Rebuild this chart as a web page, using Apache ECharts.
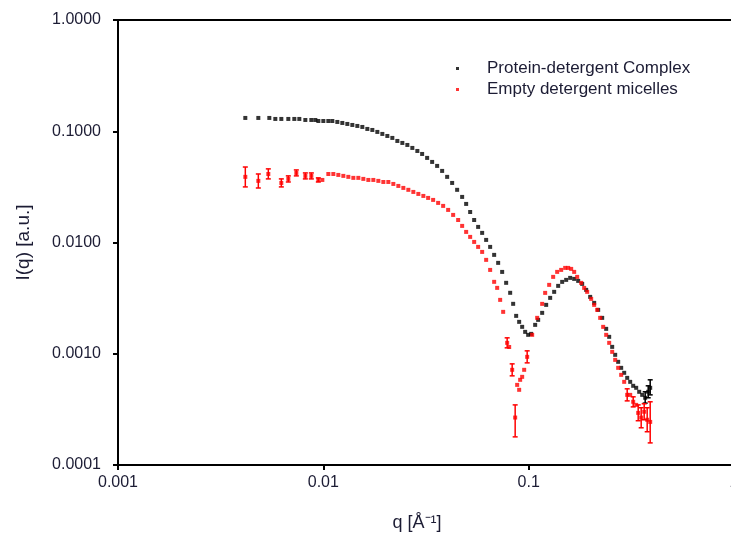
<!DOCTYPE html>
<html>
<head>
<meta charset="utf-8">
<script src="https://cdn.jsdelivr.net/npm/echarts@6/dist/echarts.min.js"></script>
<style>
html,body{margin:0;padding:0;background:#fff;}
#chart{width:731px;height:547px;}
</style>
</head>
<body>
<div id="chart"></div>
<script>
// ---- data ----
const xTickLabels = ['0.001', '0.01', '0.1', '1'];
const yTickLabels = ['0.0001', '0.0010', '0.0100', '0.1000', '1.0000'];
const seriesNames = ['Protein-detergent Complex', 'Empty detergent micelles'];

const complexQ = [0.004169,0.004824,0.005457,0.005837,0.006243,0.006753,0.007223,0.007640,0.008173,0.008741,0.009142,0.009455,0.01,0.010577,0.011062,0.0117,0.012374,0.013089,0.013844,0.014643,0.015487,0.016381,0.017325,0.018325,0.019381,0.0205,0.021682,0.022934,0.024256,0.025656,0.027134,0.0287,0.030283,0.03203,0.03388,0.03583,0.0379,0.04009,0.0424,0.04484,0.04743,0.04961,0.05189,0.05427,0.05675,0.05936,0.06208,0.06493,0.06791,0.07103,0.07429,0.07769,0.08127,0.08404,0.08692,0.08989,0.09297,0.09615,0.09944,0.10284,0.10756,0.11124,0.11635,0.12168,0.12727,0.13311,0.13922,0.14561,0.15228,0.15927,0.16658,0.17423,0.18223,0.19058,0.19933,0.20847,0.21804,0.22806,0.23852,0.24668,0.25512,0.26384,0.27287,0.28219,0.29189,0.30187,0.31221,0.32289,0.33395,0.34537,0.35718,0.36939,0.38206,0.39073];
const complexI = [0.1317,0.1317,0.1317,0.1290,0.1290,0.1290,0.1290,0.1290,0.1263,0.1263,0.1263,0.1237,0.1237,0.1237,0.1237,0.1212,0.1187,0.1163,0.1139,0.1116,0.1093,0.1049,0.1027,0.0986,0.0946,0.0907,0.0871,0.0818,0.0785,0.0753,0.0708,0.0665,0.0625,0.0576,0.0530,0.0488,0.0440,0.0389,0.0343,0.02975,0.02569,0.02222,0.0188,0.01593,0.01381,0.0122,0.01055,0.00913,0.00774,0.00656,0.00544,0.00434,0.00353,0.00281,0.00219,0.001935,0.001745,0.001573,0.001479,0.001509,0.001818,0.002017,0.002331,0.00275,0.003179,0.003601,0.004075,0.004426,0.004613,0.004808,0.004709,0.004519,0.004246,0.003751,0.003245,0.002866,0.00248,0.002102,0.001674,0.001419,0.001153,0.000978,0.000846,0.000747,0.000674,0.000607,0.000559,0.000515,0.000494,0.000455,0.000427,0.000402,0.000455,0.000494];
const complexErrQ = [0.36939, 0.38206, 0.39073];
const complexErrLo = [0.000360, 0.000402, 0.000427];
const complexErrHi = [0.000455, 0.000515, 0.000583];

const micelleQ = [0.004169,0.004824,0.005396,0.006243,0.006753,0.007387,0.008173,0.008741,0.009455,0.009889,0.010577,0.011187,0.011832,0.012515,0.013236,0.0140,0.014808,0.015662,0.016566,0.017521,0.018532,0.0196,0.020731,0.021927,0.023192,0.02453,0.025945,0.02744,0.029023,0.0307,0.03239,0.03426,0.03624,0.03833,0.04054,0.04288,0.04535,0.04743,0.04961,0.05189,0.05427,0.05675,0.05936,0.06208,0.06493,0.06791,0.07024,0.07264,0.07513,0.07857,0.08036,0.08311,0.08595,0.0879,0.08989,0.0909,0.09297,0.09508,0.09833,0.10401,0.11,0.11635,0.12032,0.12585,0.13162,0.13766,0.14398,0.15059,0.15574,0.16107,0.16658,0.17228,0.18019,0.18635,0.19272,0.20157,0.20847,0.21561,0.22299,0.23062,0.23852,0.24668,0.25512,0.26384,0.27287,0.28219,0.29189,0.30187,0.31221,0.32289,0.33395,0.34152,0.35318,0.36527,0.37776,0.39073];
const micelleI = [0.0389,0.0358,0.0413,0.0343,0.0373,0.0422,0.0397,0.0397,0.0365,0.0365,0.0413,0.0413,0.0405,0.0397,0.0389,0.0381,0.0381,0.0373,0.0365,0.0365,0.0358,0.0350,0.0350,0.0336,0.03225,0.03095,0.02975,0.02848,0.02733,0.02622,0.02516,0.02414,0.02269,0.02133,0.01963,0.0177,0.01593,0.0141,0.01245,0.01123,0.01012,0.00913,0.00823,0.00698,0.00567,0.00443,0.00391,0.00305,0.00238,0.001253,0.00115,0.000717,0.000267,0.000525,0.000474,0.000583,0.00062,0.000717,0.000938,0.001479,0.002102,0.002808,0.003525,0.004161,0.004909,0.005443,0.005672,0.005912,0.005912,0.005791,0.005443,0.004909,0.004336,0.003909,0.003601,0.003114,0.00275,0.00248,0.002102,0.001745,0.001479,0.001253,0.00104,0.000881,0.000747,0.000646,0.000559,0.000427,0.000427,0.00037,0.000347,0.000294,0.000267,0.000301,0.000255,0.000244];
const micelleErrQ  = [0.004169,0.004824,0.005396,0.006243,0.006753,0.007387,0.008173,0.008741,0.009455,0.07857,0.08311,0.08595,0.09833,0.30187,0.32289,0.34152,0.35318,0.36527,0.37776,0.39073];
const micelleErrLo = [0.0316,0.0309,0.0373,0.0316,0.0350,0.0397,0.0373,0.0373,0.0350,0.00113,0.000633,0.000179,0.000828,0.000377,0.000333,0.00025,0.000216,0.000255,0.000199,0.000158];
const micelleErrHi = [0.0477,0.0413,0.0459,0.0373,0.0397,0.0449,0.0422,0.0422,0.0381,0.00139,0.000811,0.000347,0.001062,0.000484,0.00041,0.000347,0.000327,0.000355,0.000327,0.00037];

// ---- build ----
const FONT = '"Liberation Sans", Arial, sans-serif';
const TXT = '#1c1c34';
function zip2(a, b) { return a.map((v, i) => [v, b[i]]); }
function zip3(a, b, c) { return a.map((v, i) => [v, b[i], c[i]]); }
function decadeIndex(v, base) { return Math.round(Math.log10(v)) + base; }

function errRender(color) {
  return function (params, api) {
    const q = api.value(0);
    const lo = api.coord([q, api.value(1)]);
    const hi = api.coord([q, api.value(2)]);
    const w = 2.5;
    const st = { stroke: color, lineWidth: 1.5 };
    return {
      type: 'group',
      children: [
        { type: 'line', shape: { x1: lo[0], y1: lo[1], x2: hi[0], y2: hi[1] }, style: st },
        { type: 'line', shape: { x1: lo[0] - w, y1: lo[1], x2: lo[0] + w, y2: lo[1] }, style: st },
        { type: 'line', shape: { x1: hi[0] - w, y1: hi[1], x2: hi[0] + w, y2: hi[1] }, style: st }
      ]
    };
  };
}

const chart = echarts.init(document.getElementById('chart'), null, { renderer: 'canvas' });
chart.setOption({
  animation: false,
  backgroundColor: '#fff',
  grid: {
    left: 118, right: -3, top: 20, bottom: 82,
    outerBoundsMode: 'none', containLabel: false,
    show: true, borderColor: '#000', borderWidth: 2, backgroundColor: 'transparent'
  },
  legend: {
    orient: 'vertical', left: 451, top: 55, itemWidth: 3, itemHeight: 3, itemGap: 4,
    icon: 'rect', selectedMode: false,
    data: seriesNames,
    textStyle: { fontFamily: FONT, fontSize: 17, color: TXT, padding: [0, 0, 0, 23] }
  },
  xAxis: {
    type: 'log', logBase: 10, min: 0.001, max: 1,
    name: 'q [Å⁻¹]', nameLocation: 'middle', nameGap: 49,
    nameTextStyle: { fontFamily: FONT, fontSize: 18, color: TXT, padding: [0, 18, 0, 0] },
    axisLine: { show: true, lineStyle: { color: '#000', width: 2 } },
    axisTick: { show: true, inside: false, length: 5, lineStyle: { color: '#000', width: 2 } },
    minorTick: { show: false },
    splitLine: { show: false },
    axisLabel: {
      margin: 10, fontFamily: FONT, fontSize: 16, color: TXT,
      formatter: v => xTickLabels[decadeIndex(v, 3)]
    }
  },
  yAxis: {
    type: 'log', logBase: 10, min: 0.0001, max: 1,
    name: 'I(q) [a.u.]', nameLocation: 'middle', nameGap: 85, nameRotate: 90,
    nameTextStyle: { fontFamily: FONT, fontSize: 19, color: TXT },
    axisLine: { show: true, lineStyle: { color: '#000', width: 2 } },
    axisTick: { show: true, inside: false, length: 5, lineStyle: { color: '#000', width: 2 } },
    splitLine: { show: false },
    axisLabel: {
      margin: 17, fontFamily: FONT, fontSize: 16, color: TXT,
      formatter: v => yTickLabels[decadeIndex(v, 4)]
    }
  },
  series: [
    {
      name: seriesNames[0], type: 'scatter', symbol: 'rect', symbolSize: 4,
      itemStyle: { color: '#000' }, data: zip2(complexQ, complexI), z: 3
    },
    {
      name: 'complexErr', type: 'custom', renderItem: errRender('#000'),
      encode: { x: 0, y: [1, 2] }, data: zip3(complexErrQ, complexErrLo, complexErrHi), z: 2
    },
    {
      name: 'micelleErr', type: 'custom', renderItem: errRender('#ff0000'),
      encode: { x: 0, y: [1, 2] }, data: zip3(micelleErrQ, micelleErrLo, micelleErrHi), z: 4
    },
    {
      name: seriesNames[1], type: 'scatter', symbol: 'rect', symbolSize: 4,
      itemStyle: { color: '#ff0000' }, data: zip2(micelleQ, micelleI), z: 5
    }
  ]
});
</script>
</body>
</html>
